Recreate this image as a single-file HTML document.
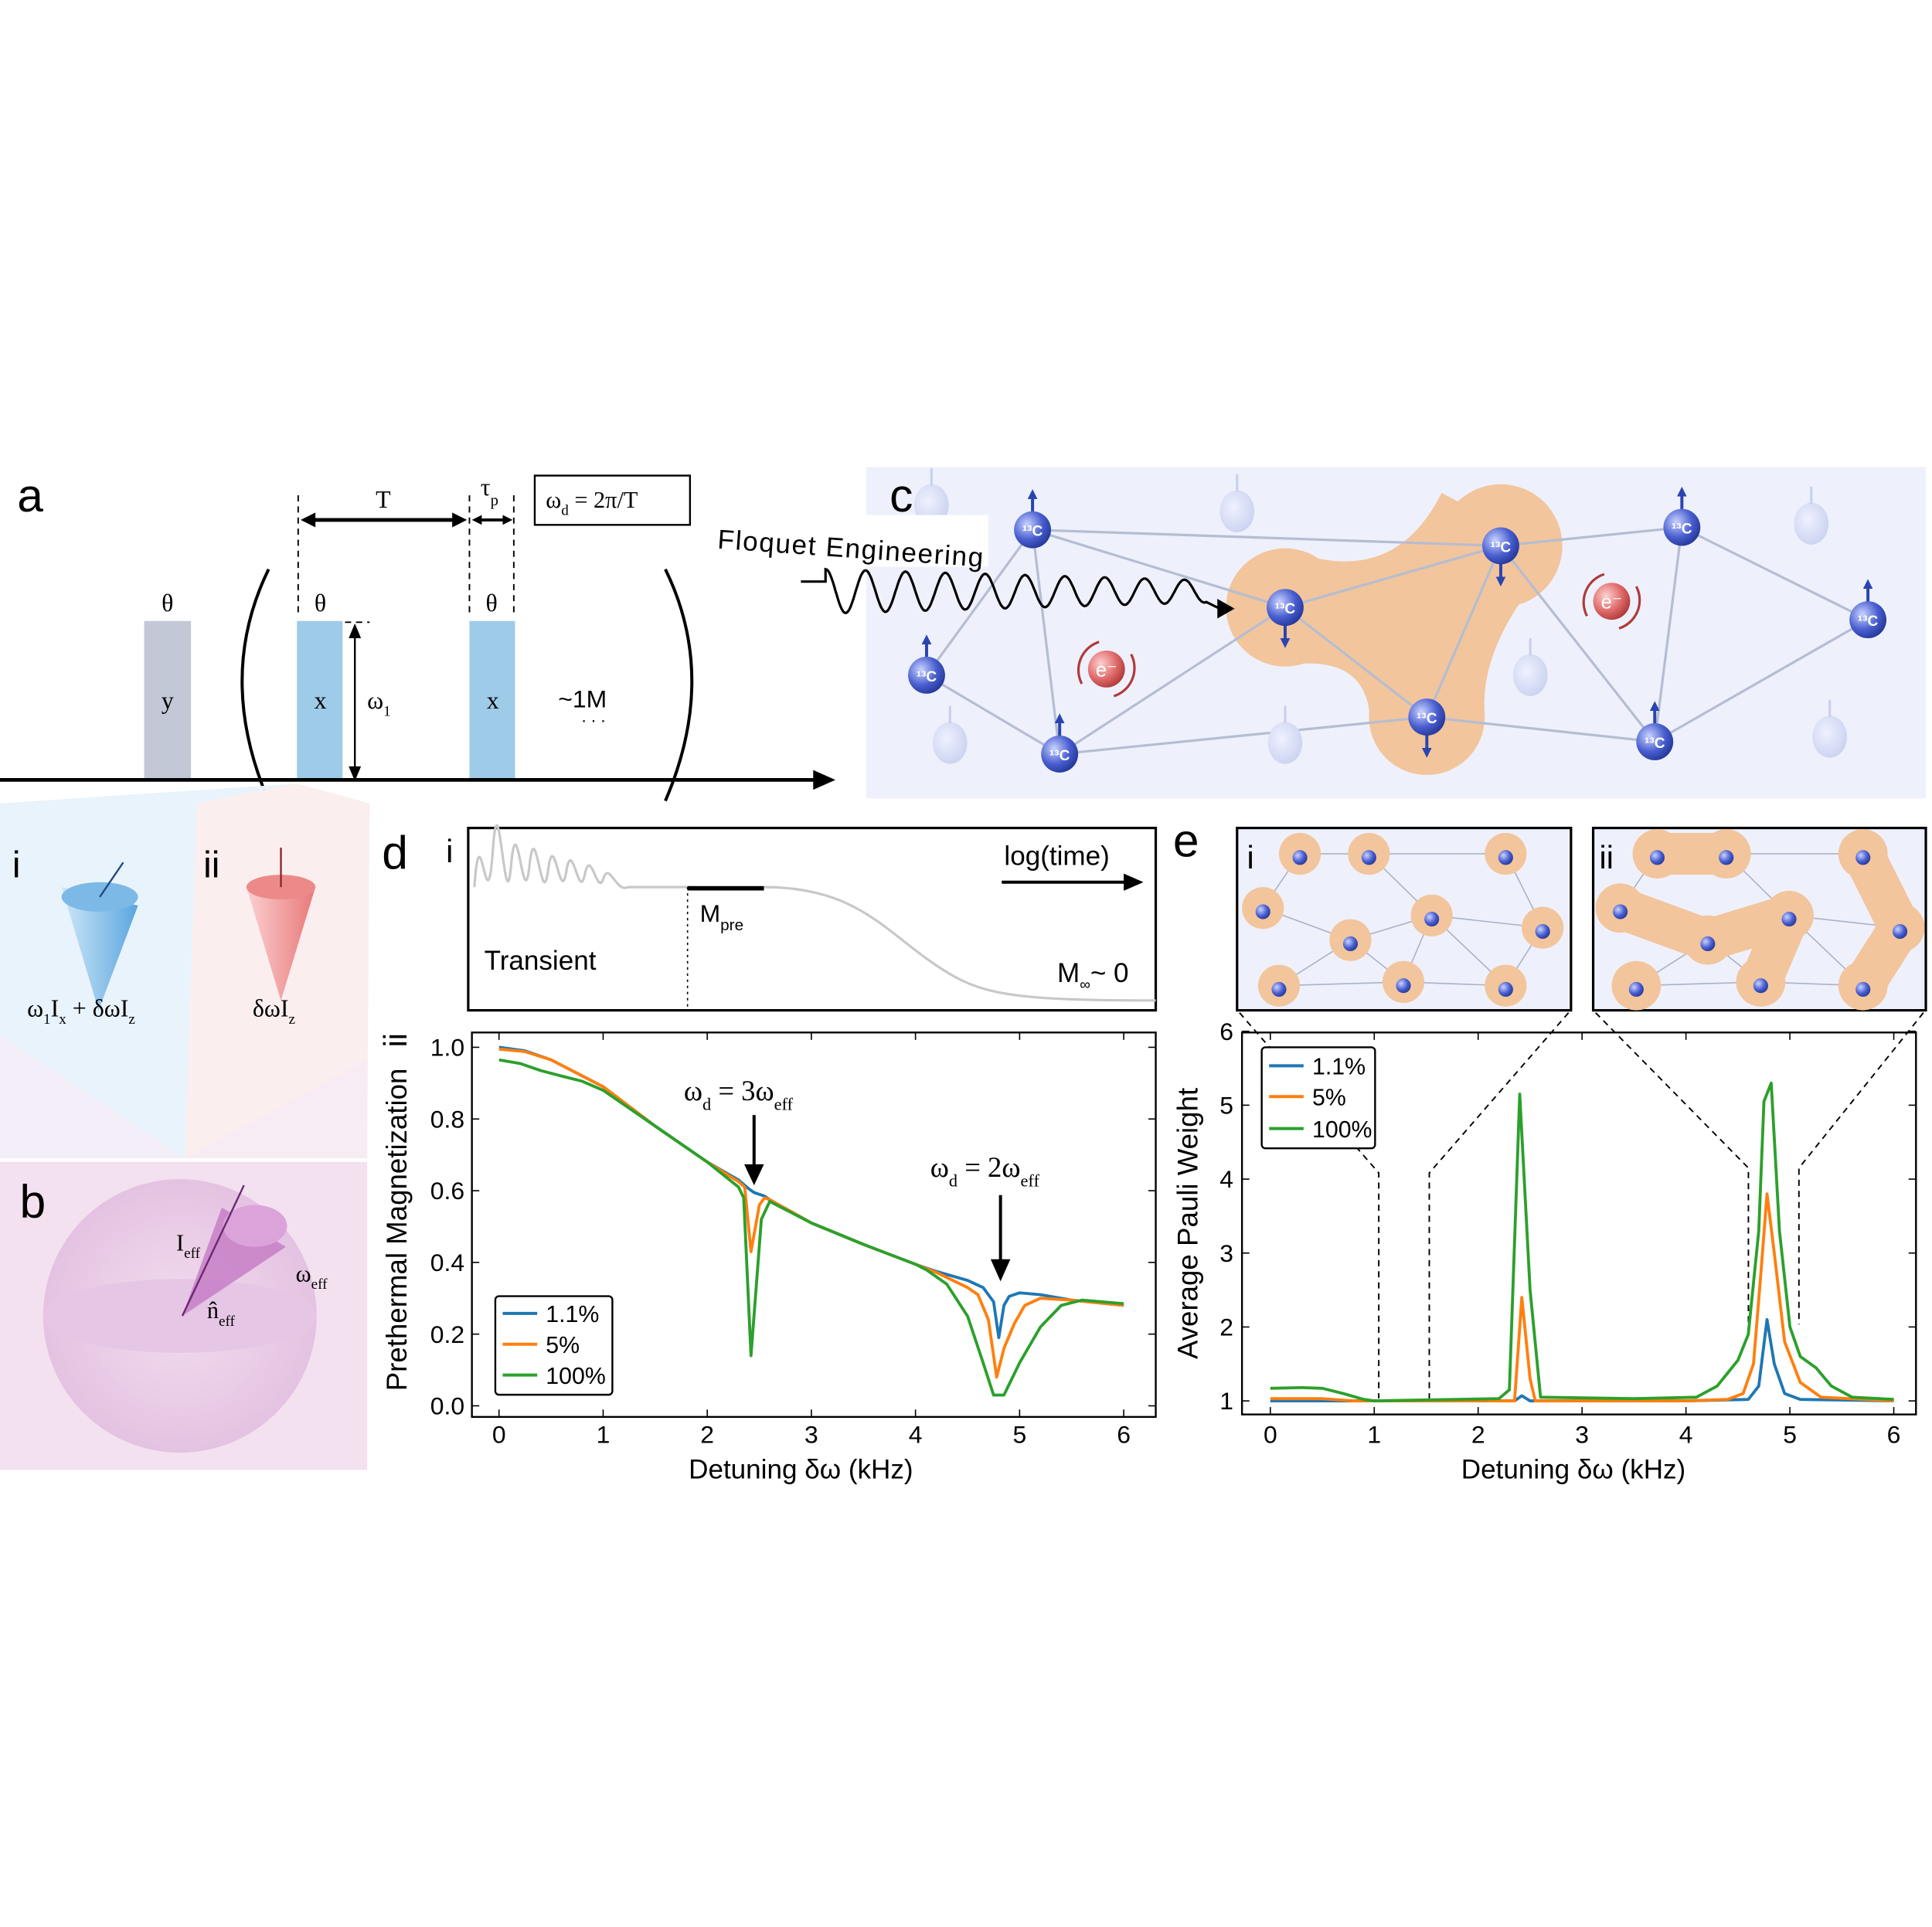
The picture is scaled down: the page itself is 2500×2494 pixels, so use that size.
<!DOCTYPE html>
<html><head><meta charset="utf-8"><style>
html,body{margin:0;padding:0;background:#fff}
#wrap{width:2500px;height:2494px;overflow:hidden}
svg{display:block}
text{font-family:"Liberation Sans",sans-serif}
.serif{font-family:"Liberation Serif",serif}
</style></head><body>
<div id="wrap">
<svg id="fig" width="2500" height="2494" viewBox="0 0 1568 1564" preserveAspectRatio="none" xmlns="http://www.w3.org/2000/svg">
<defs>
<radialGradient id="gb" cx="0.35" cy="0.35" r="0.7"><stop offset="0" stop-color="#c9d3ff"/><stop offset="0.6" stop-color="#4a5fd0"/><stop offset="1" stop-color="#25389a"/></radialGradient>
<radialGradient id="gf" cx="0.4" cy="0.4" r="0.7"><stop offset="0" stop-color="#eef1ff"/><stop offset="1" stop-color="#c8d0ee"/></radialGradient>
<radialGradient id="gr" cx="0.35" cy="0.35" r="0.7"><stop offset="0" stop-color="#ffd0d0"/><stop offset="0.6" stop-color="#e06b6b"/><stop offset="1" stop-color="#b03a3a"/></radialGradient>
<radialGradient id="gs" cx="0.5" cy="0.5" r="0.5"><stop offset="0" stop-color="#f3dcef"/><stop offset="1" stop-color="#e2bfe0"/></radialGradient>
<linearGradient id="gcb" x1="0" y1="0" x2="1" y2="0"><stop offset="0" stop-color="#cfe6f8"/><stop offset="1" stop-color="#5aa6df"/></linearGradient>
<linearGradient id="gcr" x1="0" y1="0" x2="1" y2="0"><stop offset="0" stop-color="#fbd0d0"/><stop offset="1" stop-color="#e87878"/></linearGradient>
<marker id="ahb" markerUnits="userSpaceOnUse" markerWidth="8" markerHeight="8" refX="5" refY="4" orient="auto"><path d="M0,0 L8,4 L0,8 z" fill="#2a45b0"/></marker>
</defs>

<!-- panel a -->
<g>
<text x="14" y="415" font-size="38">a</text>
<rect x="117" y="504" width="38" height="129" fill="#c3c8d6"/>
<rect x="241" y="504" width="37" height="129" fill="#9ecbe7"/>
<rect x="381" y="504" width="37" height="129" fill="#9ecbe7"/>
<text x="136" y="575" font-size="20" text-anchor="middle" class="serif">y</text>
<text x="260" y="575" font-size="20" text-anchor="middle" class="serif">x</text>
<text x="400" y="575" font-size="20" text-anchor="middle" class="serif">x</text>
<text x="136" y="496" font-size="20" text-anchor="middle" class="serif">θ</text>
<text x="260" y="496" font-size="20" text-anchor="middle" class="serif">θ</text>
<text x="399" y="496" font-size="20" text-anchor="middle" class="serif">θ</text>
<g stroke="#000" stroke-dasharray="5,4" stroke-width="1.2">
<line x1="242" y1="402" x2="242" y2="500"/><line x1="381" y1="402" x2="381" y2="500"/><line x1="417" y1="402" x2="417" y2="500"/>
<line x1="280" y1="505" x2="300" y2="505"/></g>
<line x1="252" y1="422" x2="371" y2="422" stroke="#000" stroke-width="3"/>
<path d="M244,422 L256,416 L256,428 z M379,422 L367,416 L367,428 z" fill="#000"/>
<line x1="390" y1="422" x2="409" y2="422" stroke="#000" stroke-width="2.5"/>
<path d="M383,422 L391,418 L391,426 z M416,422 L408,418 L408,426 z" fill="#000"/>
<text x="311" y="412" font-size="20" text-anchor="middle" class="serif">T</text>
<text x="390" y="402" font-size="20" class="serif">τ<tspan font-size="13" dy="8">p</tspan></text>
<rect x="434" y="386" width="126" height="40" fill="#fff" stroke="#000" stroke-width="1.5"/>
<text x="443" y="412" font-size="19" class="serif">ω<tspan font-size="12" dy="6">d</tspan><tspan dy="-6"> = 2π/T</tspan></text>
<line x1="288" y1="510" x2="288" y2="630" stroke="#000" stroke-width="1.5"/>
<path d="M283,518 L288,506 L293,518 z M283,622 L288,634 L293,622 z" fill="#000"/>
<text x="298" y="575" font-size="20" class="serif">ω<tspan font-size="12" dy="6">1</tspan></text>
<text x="453" y="574" font-size="20">~1M</text>
<text x="472" y="586" font-size="14">. . .</text>
<path d="M218,462 Q175,550 218,650" fill="none" stroke="#000" stroke-width="2.5"/>
<path d="M540,462 Q583,550 540,650" fill="none" stroke="#000" stroke-width="2.5"/>
<line x1="0" y1="633" x2="665" y2="633" stroke="#000" stroke-width="3"/>
<path d="M660,625 L678,633 L660,641 z" fill="#000"/>
</g>

<!-- panel i/ii/b background -->
<g>
<polygon points="0,652 241,636 160,652 150,940 0,940" fill="#e9f3fb"/>
<polygon points="160,652 241,636 300,652 298,940 150,940" fill="#fbeeee"/>
<polygon points="0,840 150,940 0,940" fill="#f4eef8"/>
<polygon points="150,940 298,860 298,940" fill="#f7ecf3"/>
<rect x="0" y="943" width="298" height="250" fill="#f4e1f0"/>
<text x="10" y="712" font-size="30">i</text>
<text x="165" y="712" font-size="30">ii</text>
<path d="M50,720 L80,820 L112,735 Z" fill="url(#gcb)"/><ellipse cx="81" cy="728" rx="31" ry="12" fill="#7db9e6"/>
<path d="M200,720 L228,812 L256,720 Z" fill="url(#gcr)"/><ellipse cx="228" cy="720" rx="28" ry="10" fill="#ec8a8a"/>
<line x1="81" y1="728" x2="100" y2="700" stroke="#204a80" stroke-width="1.5"/>
<line x1="228" y1="720" x2="228" y2="688" stroke="#8a2a2a" stroke-width="1.5"/>
<text x="22" y="825" font-size="20" class="serif">ω<tspan font-size="12" dy="6">1</tspan><tspan dy="-6">I</tspan><tspan font-size="12" dy="6">x</tspan><tspan dy="-6"> + δωI</tspan><tspan font-size="12" dy="6">z</tspan></text>
<text x="205" y="825" font-size="20" class="serif">δωI<tspan font-size="12" dy="6">z</tspan></text>
<text x="16" y="988" font-size="38">b</text>
<circle cx="146" cy="1068" r="111" fill="url(#gs)" opacity="0.9"/>
<ellipse cx="146" cy="1068" rx="111" ry="30" fill="#e5c6e4"/>
<path d="M148,1068 L180,980 L232,1012 Z" fill="#c479c4" opacity="0.8"/>
<ellipse cx="207" cy="995" rx="26" ry="17" fill="#dba3da"/>
<line x1="148" y1="1068" x2="198" y2="962" stroke="#6a2a70" stroke-width="1.5"/>
<text x="143" y="1015" font-size="19" class="serif">I<tspan font-size="12" dy="6">eff</tspan></text>
<text x="240" y="1040" font-size="19" class="serif">ω<tspan font-size="12" dy="6">eff</tspan></text>
<text x="168" y="1070" font-size="19" class="serif">n̂<tspan font-size="12" dy="6">eff</tspan></text>
</g>

<!-- panel c -->
<g>
<rect x="703" y="379" width="860" height="269" fill="#eef1fc"/>
<text x="722" y="415" font-size="38">c</text>
<g fill="#f2c59c">
<circle cx="1043" cy="493" r="48"/><circle cx="1218" cy="443" r="50"/><circle cx="1158" cy="582" r="47"/>
<path d="M1043,445 Q1130,480 1170,400 L1265,450 Q1200,520 1205,580 L1112,585 Q1110,530 1043,540 Z"/>
</g>
<g id="clines" stroke="#b5bdd2" stroke-width="2" fill="none"></g>
<g id="cnodes"></g>
<rect x="580" y="418" width="222" height="42" fill="#fff"/>
<text x="582" y="445" font-size="22" textLength="216" transform="rotate(4 582 445)">Floquet Engineering</text>
<path id="wave" fill="none" stroke="#000" stroke-width="2"/>
<path d="M988,486 L1002,494 L988,502 z" fill="#000"/>
</g>

<!-- panel d -->
<g>
<text x="310" y="705" font-size="38">d</text>
<text x="362" y="700" font-size="26">i</text>
<rect x="380" y="672" width="558" height="148" fill="#fff" stroke="#000" stroke-width="2"/>
<path d="M385,720 C390,650 395,760 400,690 C405,620 410,760 415,700 C420,650 425,750 430,700 C435,660 440,745 445,705 C450,670 455,740 460,705 C465,680 470,735 475,708 C480,688 485,730 490,712 C495,700 500,725 510,720 L558,720 L620,720 C700,720 720,760 770,790 C800,808 830,812 938,812" fill="none" stroke="#c8c8c8" stroke-width="2"/>
<line x1="558" y1="720" x2="558" y2="818" stroke="#000" stroke-dasharray="2,3"/>
<line x1="558" y1="721" x2="620" y2="721" stroke="#000" stroke-width="3.5"/>
<text x="568" y="748" font-size="20">M<tspan font-size="13" dy="7">pre</tspan></text>
<text x="393" y="787" font-size="22">Transient</text>
<text x="815" y="702" font-size="22">log(time)</text>
<line x1="813" y1="716" x2="915" y2="716" stroke="#000" stroke-width="2.5"/><path d="M912,709 L928,716 L912,723 z" fill="#000"/>
<text x="858" y="797" font-size="22">M<tspan font-size="12" dy="6">∞</tspan><tspan dy="-6">~ 0</tspan></text>
<text x="0" y="0" font-size="26" transform="translate(330,850) rotate(-90)">ii</text>
<text x="0" y="0" font-size="23" text-anchor="middle" transform="translate(330,998) rotate(-90)">Prethermal Magnetization</text>
<text x="650" y="1200" font-size="22" text-anchor="middle">Detuning δω (kHz)</text>
<rect x="383" y="838" width="555" height="312" fill="none" stroke="#000" stroke-width="1.5"/>
<g id="dticks"></g><g id="dlines"></g>
<text x="555" y="893" font-size="23" class="serif">ω<tspan font-size="14" dy="8">d</tspan><tspan dy="-8"> = 3ω</tspan><tspan font-size="14" dy="8">eff</tspan></text>
<line x1="612" y1="905" x2="612" y2="948" stroke="#000" stroke-width="2.5"/><path d="M604,945 L612,962 L620,945 z" fill="#000"/>
<text x="755" y="955" font-size="23" class="serif">ω<tspan font-size="14" dy="8">d</tspan><tspan dy="-8"> = 2ω</tspan><tspan font-size="14" dy="8">eff</tspan></text>
<line x1="812" y1="970" x2="812" y2="1025" stroke="#000" stroke-width="2.5"/><path d="M804,1022 L812,1040 L820,1022 z" fill="#000"/>
<g>
<rect x="402" y="1052" width="95" height="80" rx="3" fill="#fff" stroke="#000" stroke-width="1.5"/>
<line x1="408" y1="1066" x2="436" y2="1066" stroke="#1f77b4" stroke-width="2.5"/><text x="443" y="1073" font-size="19">1.1%</text>
<line x1="408" y1="1091" x2="436" y2="1091" stroke="#ff7f0e" stroke-width="2.5"/><text x="443" y="1098" font-size="19">5%</text>
<line x1="408" y1="1116" x2="436" y2="1116" stroke="#2ca02c" stroke-width="2.5"/><text x="443" y="1123" font-size="19">100%</text>
</g>
</g>

<!-- panel e -->
<g>
<text x="952" y="695" font-size="38">e</text>
<rect x="1004" y="672" width="271" height="148" fill="#eef1fc" stroke="#000" stroke-width="2"/>
<rect x="1293" y="672" width="270" height="148" fill="#eef1fc" stroke="#000" stroke-width="2"/>
<g id="einsets"></g>
<text x="1012" y="705" font-size="26">i</text>
<text x="1298" y="705" font-size="26">ii</text>
<g stroke="#000" stroke-dasharray="5,4" stroke-width="1.2" fill="none">
<polyline points="1006,822 1119,952 1119,1135"/><polyline points="1273,822 1160,952 1160,1135"/>
<polyline points="1295,822 1419,948 1419,1075"/><polyline points="1561,822 1460,948 1460,1075"/>
</g>
<text x="0" y="0" font-size="23" text-anchor="middle" transform="translate(972,993) rotate(-90)">Average Pauli Weight</text>
<text x="1277" y="1200" font-size="22" text-anchor="middle">Detuning δω (kHz)</text>
<rect x="1008" y="838" width="547" height="310" fill="none" stroke="#000" stroke-width="1.5"/>
<g id="eticks"></g><g id="elines"></g>
<g>
<rect x="1024" y="850" width="92" height="82" rx="3" fill="#fff" stroke="#000" stroke-width="1.5"/>
<line x1="1030" y1="865" x2="1058" y2="865" stroke="#1f77b4" stroke-width="2.5"/><text x="1065" y="872" font-size="19">1.1%</text>
<line x1="1030" y1="890" x2="1058" y2="890" stroke="#ff7f0e" stroke-width="2.5"/><text x="1065" y="897" font-size="19">5%</text>
<line x1="1030" y1="916" x2="1058" y2="916" stroke="#2ca02c" stroke-width="2.5"/><text x="1065" y="923" font-size="19">100%</text>
</g>
</g>
</svg>
</div>
<script>
// ---- data panel d ----
const dX_blue=[0,0.25,0.5,1,1.5,2,2.3,2.4,2.45,2.55,2.6,3,3.5,4,4.2,4.5,4.65,4.75,4.8,4.85,4.9,5.0,5.2,5.5,6];
const dY_blue=[1.0,0.99,0.965,0.89,0.78,0.68,0.63,0.605,0.595,0.585,0.575,0.51,0.45,0.395,0.375,0.35,0.33,0.29,0.19,0.28,0.305,0.315,0.31,0.295,0.28];
const dX_orange=[0,0.25,0.5,1,1.5,2,2.3,2.36,2.42,2.5,2.55,2.6,3,3.5,4,4.2,4.5,4.6,4.7,4.78,4.85,4.95,5.05,5.2,5.5,6];
const dY_orange=[0.995,0.988,0.965,0.89,0.78,0.68,0.625,0.61,0.43,0.56,0.58,0.575,0.51,0.45,0.395,0.372,0.33,0.31,0.24,0.08,0.16,0.23,0.28,0.30,0.295,0.28];
const dX_green=[0,0.2,0.4,0.6,0.8,1,1.5,2,2.3,2.35,2.42,2.52,2.6,3,3.5,4,4.1,4.3,4.5,4.65,4.75,4.85,5.0,5.2,5.4,5.6,6];
const dY_green=[0.965,0.955,0.935,0.92,0.905,0.88,0.78,0.68,0.61,0.58,0.14,0.52,0.57,0.51,0.45,0.395,0.38,0.34,0.25,0.12,0.03,0.03,0.12,0.22,0.28,0.295,0.285];
const dXTicks=[0,1,2,3,4,5,6];
const dYTicks=["0.0","0.2","0.4","0.6","0.8","1.0"];
// ---- data panel e ----
const eX_blue=[0,1,2,2.35,2.42,2.5,4,4.6,4.7,4.78,4.85,4.95,5.1,6];
const eY_blue=[1.0,1.0,1.0,1.0,1.07,1.0,1.0,1.02,1.2,2.1,1.5,1.1,1.02,1.0];
const eX_orange=[0,0.5,0.8,2,2.35,2.42,2.5,2.55,4,4.4,4.55,4.65,4.72,4.78,4.85,4.95,5.1,5.3,6];
const eY_orange=[1.03,1.03,1.0,1.0,1.0,2.4,1.3,1.0,1.0,1.02,1.1,1.5,2.7,3.8,3.0,1.8,1.25,1.05,1.0];
const eX_green=[0,0.3,0.5,0.7,0.9,1,2.2,2.3,2.4,2.5,2.6,3.5,4.1,4.3,4.5,4.6,4.7,4.75,4.82,4.9,5.0,5.1,5.25,5.4,5.6,6];
const eY_green=[1.17,1.18,1.17,1.1,1.02,1.0,1.03,1.15,5.15,2.5,1.05,1.03,1.05,1.2,1.55,1.9,3.3,5.05,5.3,3.3,2.0,1.6,1.45,1.2,1.05,1.02];
const eXTicks=[0,1,2,3,4,5,6];
const eYTicks=[1,2,3,4,5,6];

const NS="http://www.w3.org/2000/svg";
function mk(tag,attrs,parent){const e=document.createElementNS(NS,tag);for(const k in attrs)e.setAttribute(k,attrs[k]);parent.appendChild(e);return e;}
const dx=v=>405+v*84.5, dy=v=>1141-v*291;
const ex=v=>1031+v*84.33, ey=v=>1137-(v-1)*60;
const dT=document.getElementById('dticks');
dXTicks.forEach(v=>{mk('line',{x1:dx(v),x2:dx(v),y1:1150,y2:1144,stroke:'#000'},dT);mk('line',{x1:dx(v),x2:dx(v),y1:838,y2:844,stroke:'#000'},dT);
 const t=mk('text',{x:dx(v),y:1171,'font-size':20,'text-anchor':'middle'},dT);t.textContent=v;
 
 });
dYTicks.forEach(s=>{const v=parseFloat(s);mk('line',{x1:383,x2:389,y1:dy(v),y2:dy(v),stroke:'#000'},dT);mk('line',{x1:938,x2:932,y1:dy(v),y2:dy(v),stroke:'#000'},dT);
 const t=mk('text',{x:377,y:dy(v)+7,'font-size':20,'text-anchor':'end'},dT);t.textContent=s;
 
 });
const eT=document.getElementById('eticks');
eXTicks.forEach(v=>{mk('line',{x1:ex(v),x2:ex(v),y1:1148,y2:1142,stroke:'#000'},eT);mk('line',{x1:ex(v),x2:ex(v),y1:838,y2:844,stroke:'#000'},eT);
 const t=mk('text',{x:ex(v),y:1171,'font-size':20,'text-anchor':'middle'},eT);t.textContent=v;
 
 });
eYTicks.forEach(v=>{mk('line',{x1:1008,x2:1014,y1:ey(v),y2:ey(v),stroke:'#000'},eT);mk('line',{x1:1555,x2:1549,y1:ey(v),y2:ey(v),stroke:'#000'},eT);
 const t=mk('text',{x:1001,y:ey(v)+7,'font-size':20,'text-anchor':'end'},eT);t.textContent=v;
 
 });
function series(xs,ys,fx,fy,col,g,name){const d=xs.map((x,i)=>(i?'L':'M')+fx(x).toFixed(1)+','+fy(ys[i]).toFixed(1)).join(' ');
 const p=mk('path',{d:d,fill:'none',stroke:col,'stroke-width':2.4,'stroke-linejoin':'round'},g);
 
 }
const dL=document.getElementById('dlines'), eL=document.getElementById('elines');
series(dX_blue,dY_blue,dx,dy,'#1f77b4',dL,'line-1-1pct-d');
series(dX_orange,dY_orange,dx,dy,'#ff7f0e',dL,'line-5pct-d');
series(dX_green,dY_green,dx,dy,'#2ca02c',dL,'line-100pct-d');
series(eX_blue,eY_blue,ex,ey,'#1f77b4',eL,'line-1-1pct-e');
series(eX_orange,eY_orange,ex,ey,'#ff7f0e',eL,'line-5pct-e');
series(eX_green,eY_green,ex,ey,'#2ca02c',eL,'line-100pct-e');

// panel c illustration
const cN=[[838,430],[752,548],[860,612],[1043,493],[1218,443],[1158,582],[1365,428],[1516,503],[1343,602]];
const cE=[[0,4],[0,1],[0,2],[0,3],[1,2],[2,5],[2,3],[3,4],[3,5],[4,5],[4,6],[6,8],[6,7],[7,8],[5,8],[4,8]];
const cF=[[756,410],[1004,415],[1470,425],[1242,548],[771,603],[1043,603],[1485,598]];
const cl=document.getElementById('clines'), cn=document.getElementById('cnodes');
cE.forEach(e=>mk('line',{x1:cN[e[0]][0],y1:cN[e[0]][1],x2:cN[e[1]][0],y2:cN[e[1]][1]},cl));
cF.forEach(p=>{mk('ellipse',{cx:p[0],cy:p[1],rx:14,ry:17,fill:'url(#gf)'},cn);mk('line',{x1:p[0],y1:p[1]-16,x2:p[0],y2:p[1]-30,stroke:'#c8d0ee','stroke-width':2},cn);});
cN.forEach((p,i)=>{const flip=(i>=3&&i<=5);
 mk('line',{x1:p[0],y1:flip?p[1]+14:p[1]-14,x2:p[0],y2:flip?p[1]+30:p[1]-30,stroke:'#2a45b0','stroke-width':2.5,'marker-end':'url(#ahb)'},cn);
 const c=mk('circle',{cx:p[0],cy:p[1],r:15,fill:'url(#gb)'},cn);
 
 
 const t=mk('text',{x:p[0],y:p[1]+5,'font-size':12,'text-anchor':'middle',fill:'#fff','font-family':'Liberation Serif','font-weight':'bold'},cn);t.textContent='¹³C';});
[[898,543],[1308,488]].forEach(p=>{mk('circle',{cx:p[0],cy:p[1],r:15,fill:'url(#gr)'},cn);
 mk('path',{d:`M${p[0]-20},${p[1]+12} A24,24 0 0 1 ${p[0]-6},${p[1]-22}`,fill:'none',stroke:'#b03a3a','stroke-width':2},cn);
 mk('path',{d:`M${p[0]+20},${p[1]-12} A24,24 0 0 1 ${p[0]+6},${p[1]+22}`,fill:'none',stroke:'#b03a3a','stroke-width':2},cn);
 const t=mk('text',{x:p[0],y:p[1]+6,'font-size':16,'text-anchor':'middle',fill:'#fff','font-family':'Liberation Serif'},cn);t.textContent='e⁻';});
let wd='M650,472 L670,472';for(let i=0;i<=300;i++){const x=670+i*1.03;const y=480+18*Math.sin(i*0.2-1.6)*(1-i/600);wd+=' L'+x.toFixed(1)+','+y.toFixed(1);}wd+=' L990,494';
document.getElementById('wave').setAttribute('d',wd);

// e insets
const eiN=[[1055,693],[1111,693],[1222,693],[1025,737],[1096,763],[1162,743],[1252,753],[1038,800],[1139,797],[1222,800]];
const eiE=[[0,1],[1,2],[0,3],[1,5],[2,6],[3,4],[4,5],[5,6],[4,7],[4,8],[5,8],[6,9],[8,9],[7,8],[5,9]];
const eg=document.getElementById('einsets');
function inset(off,big){eiE.forEach(e=>mk('line',{x1:eiN[e[0]][0]+off,y1:eiN[e[0]][1],x2:eiN[e[1]][0]+off,y2:eiN[e[1]][1],stroke:'#aab2c8','stroke-width':1},eg));
 if(big){[[0,1],[3,4],[4,5],[5,8],[2,6],[6,9]].forEach(e=>mk('line',{x1:eiN[e[0]][0]+off,y1:eiN[e[0]][1],x2:eiN[e[1]][0]+off,y2:eiN[e[1]][1],stroke:'#f2c59c','stroke-width':34,'stroke-linecap':'round'},eg));}
 eiN.forEach(p=>mk('circle',{cx:p[0]+off,cy:p[1],r:big?20:17,fill:'#f2c59c'},eg));
 eiN.forEach(p=>mk('circle',{cx:p[0]+off,cy:p[1]+3,r:6,fill:'url(#gb)'},eg));}
inset(0,false);inset(290,true);
</script>
</body></html>
